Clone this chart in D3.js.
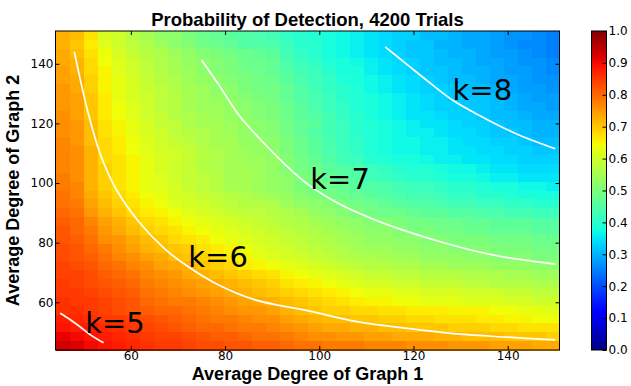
<!DOCTYPE html>
<html>
<head>
<meta charset="utf-8">
<script src="https://cdn.jsdelivr.net/npm/d3@7"></script>
<style>
  body { margin: 0; background: #fff; }
  svg { display: block; }
  .tick text { font-family: "DejaVu Sans", sans-serif; font-size: 12px; fill: #000; }
  .tick line { stroke: #000; }
</style>
</head>
<body>
<svg id="chart" width="631" height="386"></svg>
<script>
// axis extents (degrees)
const xExtent = [44, 151];
const yExtent = [44, 151];
const xTicks = [60, 80, 100, 120, 140];
const yTicks = [60, 80, 100, 120, 140];
const cbTicks = [0, 0.1, 0.2, 0.3, 0.4, 0.5, 0.6, 0.7, 0.8, 0.9, 1.0];

// detection probability (%), first row = top of the plot (Graph 2 ~ 150), left to right Graph 1 ~ 45..150
const probRows = [
  [72,71,67,61,60,57,55,53,52,50,48,47,46,45,44,43,41,40,39,38,37,36,35,34,33,33,31,31,30,29,29,28,27,27,26,25],
  [72,70,66,62,60,58,56,54,52,51,49,48,47,45,45,44,42,40,40,38,37,36,35,34,33,32,32,30,30,29,29,28,27,26,26,25],
  [73,71,67,64,61,59,57,56,54,53,51,50,49,48,47,46,43,41,40,38,37,36,35,34,33,32,32,31,30,30,29,28,28,27,26,25],
  [73,72,68,64,62,60,58,56,55,53,52,51,50,48,48,47,44,42,41,39,38,37,36,35,34,33,32,31,31,30,29,29,28,27,27,26],
  [74,72,68,65,62,60,58,57,55,54,52,51,50,49,48,47,45,43,42,40,38,38,36,35,34,33,32,32,31,30,30,29,28,28,27,26],
  [74,73,69,65,63,61,59,57,56,54,53,52,51,50,49,48,46,44,42,41,39,38,37,36,35,34,33,32,31,31,30,29,29,28,27,27],
  [75,73,69,65,63,61,59,58,56,55,54,52,52,50,49,49,47,45,43,41,40,39,37,36,35,34,33,33,32,31,31,30,29,28,28,27],
  [75,74,70,66,63,61,60,58,57,55,54,53,52,51,50,49,47,45,44,42,40,39,38,37,36,35,34,33,32,32,32,31,30,29,28,28],
  [75,74,70,66,64,62,60,58,57,55,54,54,53,52,51,50,48,46,44,42,41,39,38,37,36,35,34,33,33,32,32,31,30,29,29,28],
  [76,74,70,66,64,62,60,59,57,56,55,54,53,52,51,50,48,46,45,43,41,40,38,37,36,35,35,34,33,33,32,31,31,30,29,29],
  [76,75,71,67,65,63,61,59,58,56,55,55,54,53,52,51,49,47,46,43,42,40,39,38,37,36,35,35,34,33,33,32,31,31,30,30],
  [76,75,71,67,65,63,61,60,58,57,56,55,54,53,52,51,49,47,45,43,42,40,39,38,37,36,36,35,34,34,33,32,32,31,30,30],
  [77,75,71,68,66,64,62,60,59,58,56,55,55,53,53,52,50,48,46,44,42,41,39,38,37,37,36,36,35,34,34,33,33,32,31,31],
  [77,76,72,68,66,64,62,61,60,59,57,56,55,54,53,52,50,48,46,44,42,41,39,38,37,37,36,36,35,35,34,34,33,33,32,32],
  [77,76,72,68,67,65,63,61,60,59,57,56,55,54,54,53,51,49,47,45,43,42,40,39,38,38,37,36,36,35,35,34,34,33,33,33],
  [77,76,72,69,67,65,63,61,60,59,57,56,55,55,54,53,51,49,48,46,45,44,42,41,40,39,39,38,37,37,36,35,35,34,34,34],
  [78,76,72,69,67,65,63,62,60,59,58,57,55,55,54,53,52,50,49,47,46,45,43,42,41,40,40,39,38,38,37,36,36,35,35,35],
  [78,77,72,69,67,65,63,62,61,59,58,57,55,55,54,53,52,50,49,48,47,46,45,44,43,42,42,41,40,40,39,38,38,37,37,36],
  [79,77,73,70,68,66,64,63,61,60,59,58,57,56,55,54,53,51,50,49,48,47,46,45,44,43,43,42,41,41,40,40,39,38,38,38],
  [79,78,74,71,69,67,65,64,62,61,60,59,58,57,57,56,54,53,52,51,50,49,48,47,46,45,45,44,43,43,42,42,41,41,40,40],
  [80,79,75,72,70,68,66,65,64,62,61,60,59,58,58,57,56,55,53,52,51,50,49,48,48,47,46,46,45,45,44,44,43,43,42,42],
  [81,80,77,74,72,70,68,67,65,64,63,62,61,60,59,58,57,56,55,54,53,52,51,51,50,49,49,48,48,47,47,46,46,46,45,45],
  [82,80,78,75,73,71,69,68,67,65,64,63,62,61,60,59,58,57,56,55,54,53,52,52,51,50,50,49,49,48,48,47,47,47,46,46],
  [82,81,79,76,75,73,71,70,68,67,66,64,63,62,61,60,59,58,57,56,55,54,53,53,52,52,51,51,50,50,50,49,49,49,48,48],
  [83,82,80,78,76,74,72,71,70,69,67,66,65,64,62,61,60,59,58,57,56,55,54,54,53,53,52,52,51,51,51,50,50,50,49,49],
  [83,82,81,79,77,76,74,73,71,70,69,67,66,65,63,62,61,60,59,58,57,56,56,55,55,54,53,53,53,52,52,51,51,51,50,50],
  [84,83,82,80,79,77,76,74,73,72,70,69,68,66,65,64,63,62,61,60,59,58,57,57,56,56,55,55,54,54,54,53,53,53,52,52],
  [84,84,83,81,80,79,77,76,75,73,72,71,70,69,68,67,65,64,63,62,61,60,59,59,58,58,57,57,57,56,56,56,55,55,54,54],
  [85,84,83,82,81,80,78,77,76,75,74,73,72,71,70,69,67,66,65,64,63,62,61,61,60,60,59,59,59,58,58,57,57,57,56,56],
  [85,85,84,83,82,81,79,78,77,76,75,74,73,72,71,70,69,68,67,66,65,64,63,63,62,62,61,61,61,60,60,60,59,59,58,58],
  [86,85,85,84,83,82,80,79,78,78,77,76,75,74,73,72,71,70,69,68,67,66,65,65,64,64,63,63,63,62,62,62,61,61,60,60],
  [86,86,85,84,83,82,81,80,80,79,78,77,76,75,75,74,72,71,70,69,69,68,68,67,67,66,66,66,65,65,65,64,64,63,63,62],
  [88,87,86,85,85,84,83,82,81,80,79,78,78,77,76,76,74,73,72,71,71,70,70,69,69,68,68,67,67,67,66,66,65,65,64,64],
  [89,88,88,87,86,85,84,83,82,81,80,80,79,78,78,77,76,75,74,73,73,72,72,71,71,70,70,70,69,69,69,68,68,67,67,67],
  [91,90,89,88,87,86,85,84,84,83,82,81,81,80,79,79,78,77,76,76,75,75,74,74,73,73,73,72,72,71,71,71,70,70,70,69],
  [93,92,90,89,88,87,86,85,85,84,83,83,82,82,81,81,80,79,79,78,78,78,77,77,77,76,76,76,75,75,75,74,74,74,73,73]
];

// theoretical curves [graph1 degree, graph2 degree]
const curveK5 = [[45.0,56.3],[47.0,54.3],[49.2,51.8],[51.5,49.0],[54.2,46.4]];
const curveK6 = [[48.0,144.0],[51.0,123.1],[53.8,108.5],[57.0,97.6],[61.6,87.2],[67.2,77.9],[72.2,71.9],[77.9,66.4],
                 [86.4,60.8],[97.5,57.2],[108.0,53.5],[118.6,51.3],[129.3,49.4],[139.9,48.3],[150.1,47.4]];
const curveK7 = [[75.0,141.3],[78.6,133.1],[82.8,123.1],[87.8,114.1],[92.7,106.3],[97.8,99.3],[104.5,92.8],
                 [111.6,87.8],[118.6,83.8],[125.7,80.3],[132.8,77.3],[139.9,75.0],[150.1,72.8]];
const curveK8 = [[114.0,145.7],[118.6,139.8],[124.3,132.6],[128.6,127.5],[134.2,122.5],[141.3,116.9],[150.1,111.5]];
const curveNames = ['k=5', 'k=6', 'k=7', 'k=8'];
const labelSpots = [[50.3, 49.7], [72.2, 71.8], [98.1, 98.0], [128.3, 127.9]];

const svg = d3.select('#chart');
const plotL = 55.5, plotR = 559.5, plotT = 31, plotB = 350;

const x = d3.scaleLinear().domain(xExtent).range([plotL, plotR]);
const y = d3.scaleLinear().domain(yExtent).range([plotB, plotT]);
const colBand = d3.scaleBand().domain(d3.range(probRows[0].length)).range([plotL, plotR]);
const rowBand = d3.scaleBand().domain(d3.range(probRows.length)).range([plotT, plotB]);

// matplotlib jet
const jetR = d3.scaleLinear().domain([0, 0.35, 0.66, 0.89, 1]).range([0, 0, 1, 1, 0.5]).clamp(true);
const jetG = d3.scaleLinear().domain([0, 0.125, 0.375, 0.64, 0.91, 1]).range([0, 0, 1, 1, 0, 0]).clamp(true);
const jetB = d3.scaleLinear().domain([0, 0.11, 0.34, 0.65, 1]).range([0.5, 1, 1, 0, 0]).clamp(true);
const jet = v => d3.rgb(jetR(v) * 255, jetG(v) * 255, jetB(v) * 255).toString();

const cells = [];
probRows.forEach((row, r) => row.forEach((v, c) => cells.push({ r, c, v: v / 100 })));

svg.append('g').selectAll('rect')
  .data(cells)
  .join('rect')
  .attr('x', d => colBand(d.c))
  .attr('y', d => rowBand(d.r))
  .attr('width', colBand.bandwidth() + 0.6)
  .attr('height', rowBand.bandwidth() + 0.6)
  .attr('fill', d => jet(d.v))
  .attr('shape-rendering', 'crispEdges');

// white curves
const line = d3.line().x(d => x(d[0])).y(d => y(d[1])).curve(d3.curveCatmullRom);
svg.append('g').selectAll('path')
  .data([curveK5, curveK6, curveK7, curveK8])
  .join('path')
  .attr('d', line)
  .attr('fill', 'none')
  .attr('stroke', '#fff')
  .attr('stroke-width', 1.7);

svg.append('g').selectAll('text')
  .data(curveNames)
  .join('text')
  .attr('x', (d, i) => x(labelSpots[i][0]))
  .attr('y', (d, i) => y(labelSpots[i][1]))
  .attr('font-family', 'DejaVu Sans, sans-serif')
  .attr('font-size', 29)
  .attr('fill', '#000')
  .text(d => d);

// axes, ticks pointing inwards
const noLabel = () => '';
svg.append('g').attr('transform', `translate(0,${plotB})`)
  .call(d3.axisBottom(x).tickValues(xTicks).tickSize(-4).tickPadding(1.5))
  .call(g => g.select('.domain').remove());
svg.append('g').attr('transform', `translate(0,${plotT})`)
  .call(d3.axisTop(x).tickValues(xTicks).tickSize(-4).tickFormat(noLabel))
  .call(g => g.select('.domain').remove());
svg.append('g').attr('transform', `translate(${plotL},0)`)
  .call(d3.axisLeft(y).tickValues(yTicks).tickSize(-4).tickPadding(2))
  .call(g => g.select('.domain').remove());
svg.append('g').attr('transform', `translate(${plotR},0)`)
  .call(d3.axisRight(y).tickValues(yTicks).tickSize(-4).tickFormat(noLabel))
  .call(g => g.select('.domain').remove());

svg.append('rect')
  .attr('x', plotL).attr('y', plotT)
  .attr('width', plotR - plotL).attr('height', plotB - plotT)
  .attr('fill', 'none').attr('stroke', '#000').attr('stroke-width', 1);

// colour bar
const cbLeft = 591.5, cbRight = 606.5;
const cb = d3.scaleLinear().domain([0, 1]).range([plotB, plotT]);
const grad = svg.append('defs').append('linearGradient')
  .attr('id', 'jetGrad').attr('x1', 0).attr('y1', 1).attr('x2', 0).attr('y2', 0);
grad.selectAll('stop')
  .data(d3.range(0, 1.0001, 0.02))
  .join('stop')
  .attr('offset', d => d)
  .attr('stop-color', d => jet(d));
svg.append('rect')
  .attr('x', cbLeft).attr('y', plotT)
  .attr('width', cbRight - cbLeft).attr('height', plotB - plotT)
  .attr('fill', 'url(#jetGrad)')
  .attr('stroke', '#000').attr('stroke-width', 1);
svg.append('g').attr('transform', `translate(${cbRight},0)`)
  .call(d3.axisRight(cb).tickValues(cbTicks).tickSize(-4).tickPadding(2).tickFormat(d3.format('.1f')))
  .call(g => g.select('.domain').remove());

// titles
svg.append('text')
  .attr('x', (plotL + plotR) / 2).attr('y', 26)
  .attr('text-anchor', 'middle')
  .attr('font-family', 'Liberation Sans, Arial, sans-serif')
  .attr('font-weight', 'bold').attr('font-size', 18.5)
  .text('Probability of Detection, 4200 Trials');
svg.append('text')
  .attr('x', (plotL + plotR) / 2).attr('y', 379.5)
  .attr('text-anchor', 'middle')
  .attr('font-family', 'Liberation Sans, Arial, sans-serif')
  .attr('font-weight', 'bold').attr('font-size', 18)
  .text('Average Degree of Graph 1');
svg.append('text')
  .attr('transform', `translate(19,${(plotT + plotB) / 2}) rotate(-90)`)
  .attr('text-anchor', 'middle')
  .attr('font-family', 'Liberation Sans, Arial, sans-serif')
  .attr('font-weight', 'bold').attr('font-size', 18)
  .text('Average Degree of Graph 2');
</script>
</body>
</html>
